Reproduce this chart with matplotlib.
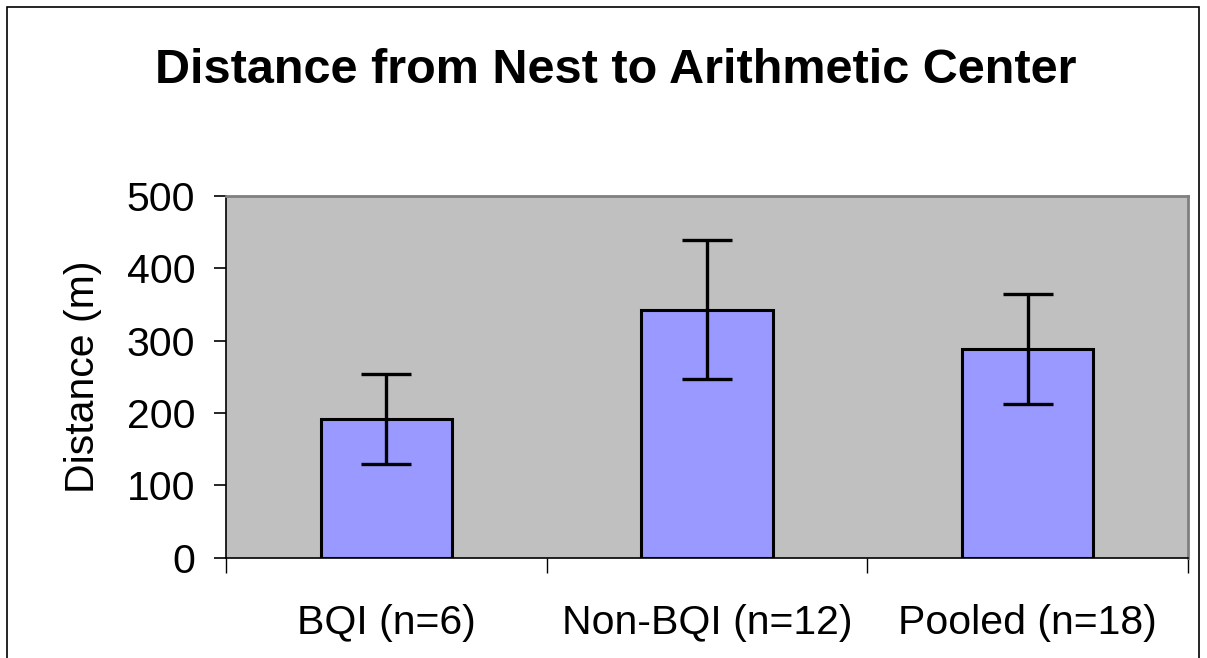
import matplotlib
matplotlib.use("Agg")
import matplotlib.pyplot as plt
from matplotlib.patches import Rectangle

categories = ["BQI (n=6)", "Non-BQI (n=12)", "Pooled (n=18)"]
means = [192, 343, 289]
errors = [62, 96, 76]
y_ticks = [0, 100, 200, 300, 400, 500]

plt.rcParams['font.family'] = ['Liberation Sans', 'DejaVu Sans']

fig = plt.figure(figsize=(12.07, 6.58), dpi=100)
ax = fig.add_axes([0.1872, 0.1524, 0.797, 0.5497])
ax.set_facecolor('#C0C0C0')

x = list(range(len(categories)))
ax.bar(x, means, width=0.41, color='#9999FF', edgecolor='black', linewidth=2.2, zorder=2)
ax.errorbar(x, means, yerr=errors, fmt='none', ecolor='black', elinewidth=2.4,
            capsize=18, capthick=2.4, zorder=3)

ax.set_xlim(-0.5, 2.5)
ax.set_ylim(0, 500)
ax.set_yticks(y_ticks)
ax.set_yticklabels([str(v) for v in y_ticks], fontsize=29.5)
ax.tick_params(axis='y', direction='out', length=9, width=1.2, pad=13)

ax.set_xticks([-0.5, 0.5, 1.5, 2.5])
ax.set_xticklabels([])
ax.tick_params(axis='x', direction='out', length=11, width=1, which='major')
ax.set_xticks(x, minor=True)
ax.set_xticklabels(categories, minor=True, fontsize=29.5)
ax.tick_params(axis='x', which='minor', length=0, pad=33)

for s in ['left', 'bottom']:
    ax.spines[s].set_color('black')
    ax.spines[s].set_linewidth(1.2)
for s in ['top', 'right']:
    ax.spines[s].set_color('#808080')
    ax.spines[s].set_linewidth(2)

ax.set_ylabel("Distance (m)", fontsize=29.5, labelpad=18)
fig.text(0.51, 0.893, "Distance from Nest to Arithmetic Center", ha='center', va='center',
         fontsize=35, fontweight='bold')

fig.patches.append(Rectangle((7/1207, -0.1), (1199-7)/1207, 1 - 7/658 + 0.1,
                             transform=fig.transFigure, fill=False, edgecolor='black',
                             linewidth=1.2))

fig.savefig("out.png", dpi=100)
